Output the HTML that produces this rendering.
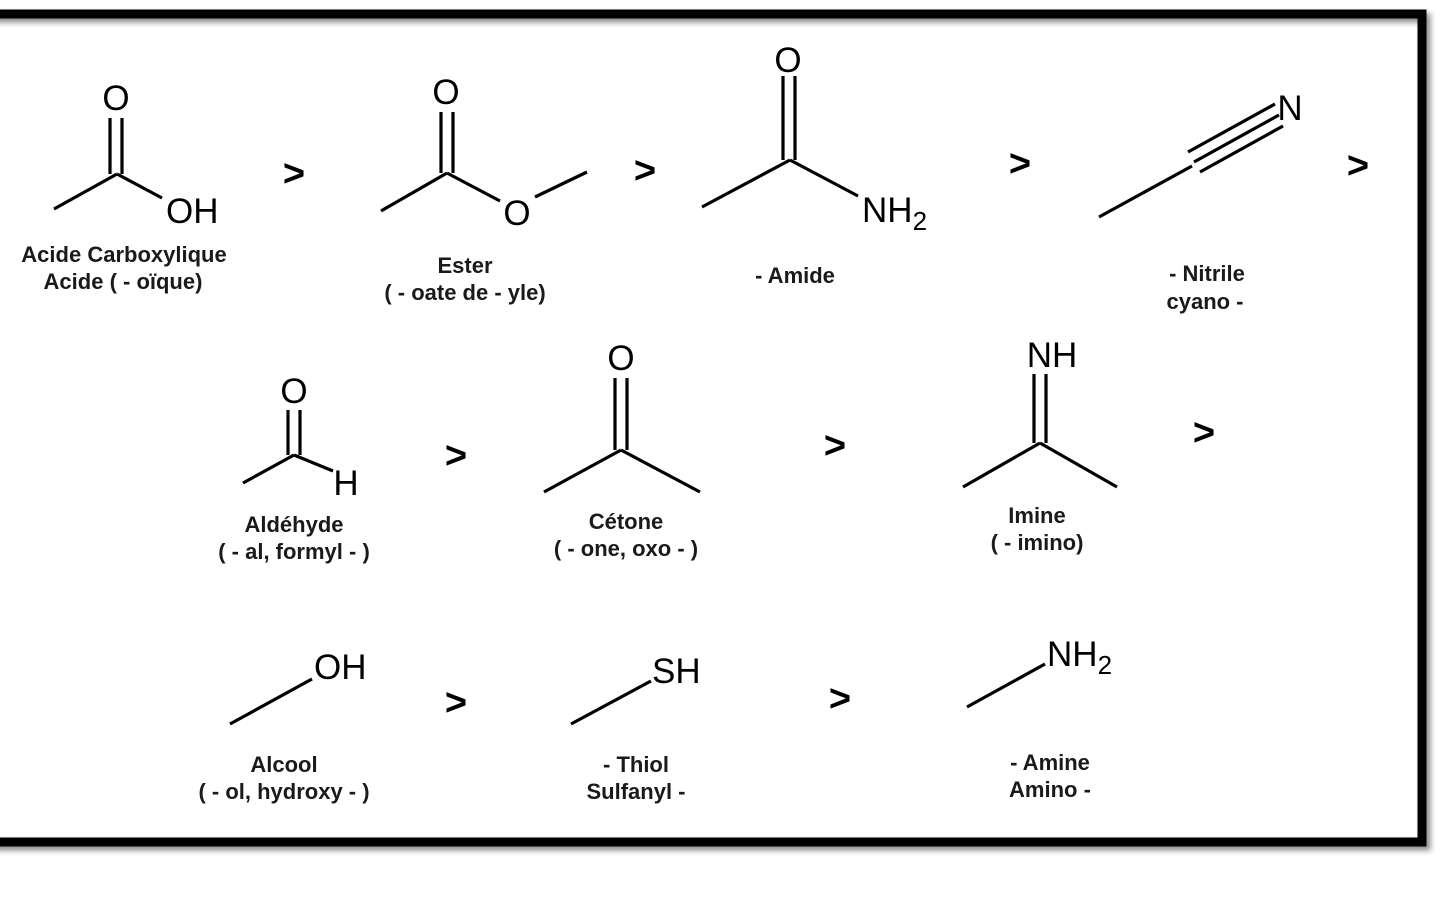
<!DOCTYPE html>
<html><head><meta charset="utf-8"><style>
html,body{margin:0;padding:0;background:#fff;width:1440px;height:900px;overflow:hidden}
svg{display:block}
.a{font-family:"Liberation Sans",sans-serif;font-size:35px;fill:#000}
.c{font-family:"Liberation Sans",sans-serif;font-size:22px;font-weight:bold;fill:#1a1a1a;text-anchor:middle;letter-spacing:0px}
.g{font-family:"Liberation Sans",sans-serif;font-size:38px;font-weight:bold;fill:#000;text-anchor:middle}
line{stroke:#000;stroke-width:3.2}
</style></head><body>
<svg width="1440" height="900" viewBox="0 0 1440 900">
<defs><filter id="s" x="-5%" y="-5%" width="110%" height="110%"><feDropShadow dx="4" dy="4" stdDeviation="3" flood-color="#000" flood-opacity="0.45"/></filter></defs>
<rect x="-20" y="14" width="1442" height="828" fill="none" stroke="#000" stroke-width="9" filter="url(#s)"/>
<!-- Acid -->
<line x1="54" y1="209" x2="117" y2="174"/><line x1="117" y1="174" x2="162" y2="198"/>
<line x1="110" y1="118" x2="110" y2="174"/><line x1="122" y1="118" x2="122" y2="174"/>
<text class="a" x="116" y="110" text-anchor="middle">O</text>
<text class="a" x="166" y="223">OH</text>
<text class="c" x="124" y="262">Acide Carboxylique</text>
<text class="c" x="123" y="289">Acide ( - oïque)</text>
<!-- Ester -->
<line x1="381" y1="211" x2="447" y2="173"/><line x1="447" y1="173" x2="500" y2="201"/><line x1="535" y1="197" x2="587" y2="172"/>
<line x1="441" y1="112" x2="441" y2="173"/><line x1="453" y1="112" x2="453" y2="173"/>
<text class="a" x="446" y="104" text-anchor="middle">O</text>
<text class="a" x="517" y="225" text-anchor="middle">O</text>
<text class="c" x="465" y="273">Ester</text>
<text class="c" x="465" y="300">( - oate de - yle)</text>
<!-- Amide -->
<line x1="702" y1="207" x2="790" y2="160"/><line x1="790" y1="160" x2="858" y2="196"/>
<line x1="783" y1="76" x2="783" y2="160"/><line x1="795" y1="76" x2="795" y2="160"/>
<text class="a" x="788" y="72" text-anchor="middle">O</text>
<text class="a" x="862" y="222">NH<tspan font-size="26" dy="8">2</tspan></text>
<text class="c" x="795" y="283">- Amide</text>
<!-- Nitrile -->
<line x1="1099" y1="217" x2="1192" y2="166"/>
<line x1="1188" y1="152" x2="1275" y2="104"/><line x1="1194" y1="162" x2="1279" y2="115"/><line x1="1200" y1="172" x2="1283" y2="126"/>
<text class="a" x="1290" y="120" text-anchor="middle">N</text>
<text class="c" x="1207" y="281">- Nitrile</text>
<text class="c" x="1205" y="309">cyano -</text>
<!-- Aldehyde -->
<line x1="243" y1="483" x2="294" y2="455"/><line x1="294" y1="455" x2="333" y2="471"/>
<line x1="288" y1="410" x2="288" y2="455"/><line x1="300" y1="410" x2="300" y2="455"/>
<text class="a" x="294" y="403" text-anchor="middle">O</text>
<text class="a" x="346" y="495" text-anchor="middle">H</text>
<text class="c" x="294" y="532">Aldéhyde</text>
<text class="c" x="294" y="559">( - al, formyl - )</text>
<!-- Ketone -->
<line x1="544" y1="492" x2="621" y2="450"/><line x1="621" y1="450" x2="700" y2="492"/>
<line x1="615" y1="378" x2="615" y2="450"/><line x1="627" y1="378" x2="627" y2="450"/>
<text class="a" x="621" y="370" text-anchor="middle">O</text>
<text class="c" x="626" y="529">Cétone</text>
<text class="c" x="626" y="556">( - one, oxo - )</text>
<!-- Imine -->
<line x1="963" y1="487" x2="1040" y2="443"/><line x1="1040" y1="443" x2="1117" y2="487"/>
<line x1="1034" y1="374" x2="1034" y2="443"/><line x1="1046" y1="374" x2="1046" y2="443"/>
<text class="a" x="1052" y="367" text-anchor="middle">NH</text>
<text class="c" x="1037" y="523">Imine</text>
<text class="c" x="1037" y="550">( - imino)</text>
<!-- Alcool -->
<line x1="230" y1="724" x2="312" y2="679"/>
<text class="a" x="314" y="679">OH</text>
<text class="c" x="284" y="772">Alcool</text>
<text class="c" x="284" y="799">( - ol, hydroxy - )</text>
<!-- Thiol -->
<line x1="571" y1="724" x2="651" y2="681"/>
<text class="a" x="652" y="683">SH</text>
<text class="c" x="636" y="772">- Thiol</text>
<text class="c" x="636" y="799">Sulfanyl -</text>
<!-- Amine -->
<line x1="967" y1="707" x2="1045" y2="664"/>
<text class="a" x="1047" y="666">NH<tspan font-size="26" dy="8">2</tspan></text>
<text class="c" x="1050" y="770">- Amine</text>
<text class="c" x="1050" y="797">Amino -</text>
<!-- > signs -->
<text class="g" x="294" y="186">&gt;</text>
<text class="g" x="645" y="183">&gt;</text>
<text class="g" x="1020" y="176">&gt;</text>
<text class="g" x="1358" y="178">&gt;</text>
<text class="g" x="456" y="468">&gt;</text>
<text class="g" x="835" y="458">&gt;</text>
<text class="g" x="1204" y="445">&gt;</text>
<text class="g" x="456" y="715">&gt;</text>
<text class="g" x="840" y="711">&gt;</text>
</svg>
</body></html>
